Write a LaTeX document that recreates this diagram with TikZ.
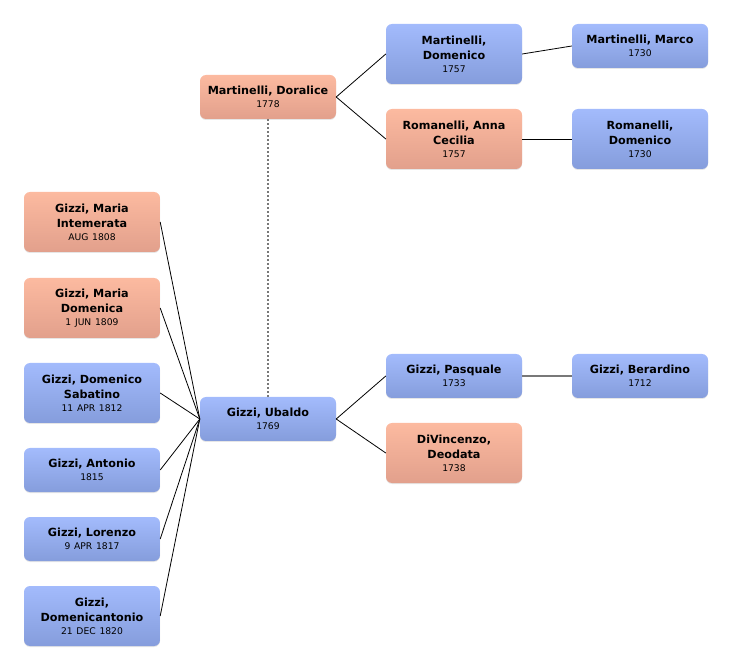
\documentclass[tikz,border=0pt]{standalone}
\usepackage{fontspec}
\setmainfont{DejaVu Sans}
\usetikzlibrary{shadows}

\definecolor{maletop}{RGB}{163,187,252}
\definecolor{malebot}{RGB}{133,157,220}
\definecolor{femtop}{RGB}{252,186,160}
\definecolor{fembot}{RGB}{226,160,140}
\definecolor{spouse}{RGB}{120,120,120}

\newcommand{\born}[1]{\\[-2pt]{\mdseries\fontsize{9.2}{11}\selectfont #1}}

\tikzset{
  person/.style={rounded corners=6pt, minimum width=136pt, minimum height=44pt,
    text width=132pt, align=center, inner sep=2pt,
    font=\fontsize{11.2}{15}\selectfont\bfseries,
    drop shadow={opacity=0.2, shadow xshift=0pt, shadow yshift=-1pt}},
  male/.style={person, top color=maletop, bottom color=malebot},
  female/.style={person, top color=femtop, bottom color=fembot},
  tall/.style={minimum height=60pt},
  link/.style={line width=0.8pt}
}

\begin{document}
\begin{tikzpicture}[x=1pt, y=-1pt]

    \useasboundingbox (0,0) rectangle (732,671);

    % Ubaldo's parents and grandparents
    \node[female] (doralice) at (268,97) {Martinelli, Doralice\born{1778}};
    \node[male, tall] (mdomenico) at (454,54) {Martinelli,\\Domenico\born{1757}};
    \node[male] (marco) at (640,46) {Martinelli, Marco\born{1730}};
    \node[female, tall] (anna) at (454,139) {Romanelli, Anna\\Cecilia\born{1757}};
    \node[male, tall] (rdomenico) at (640,139) {Romanelli,\\Domenico\born{1730}};

    % Ubaldo and his parents
    \node[male] (ubaldo) at (268,419) {Gizzi, Ubaldo\born{1769}};
    \node[male] (pasquale) at (454,376) {Gizzi, Pasquale\born{1733}};
    \node[male] (berardino) at (640,376) {Gizzi, Berardino\born{1712}};
    \node[female, tall] (deodata) at (454,453) {DiVincenzo,\\Deodata\born{1738}};

    % Children
    \node[female, tall] (intemerata) at (92,222) {Gizzi, Maria\\Intemerata\born{AUG 1808}};
    \node[female, tall] (mdomenica) at (92,308) {Gizzi, Maria\\Domenica\born{1 JUN 1809}};
    \node[male, tall] (sabatino) at (92,393) {Gizzi, Domenico\\Sabatino\born{11 APR 1812}};
    \node[male] (antonio) at (92,470) {Gizzi, Antonio\born{1815}};
    \node[male] (lorenzo) at (92,539) {Gizzi, Lorenzo\born{9 APR 1817}};
    \node[male, tall] (domenicantonio) at (92,616) {Gizzi,\\Domenicantonio\born{21 DEC 1820}};

    % Connect generations
    \draw[link] (doralice.east) -- (mdomenico.west);
    \draw[link] (doralice.east) -- (anna.west);
    \draw[link] (mdomenico.east) -- (marco.west);
    \draw[link] (anna.east) -- (rdomenico.west);
    \draw[link] (ubaldo.east) -- (pasquale.west);
    \draw[link] (ubaldo.east) -- (deodata.west);
    \draw[spouse, line width=1.6pt] (pasquale.east) -- (berardino.west);
    \foreach \kid in {intemerata, mdomenica, sabatino, antonio, lorenzo, domenicantonio}
        \draw[link] (\kid.east) -- (ubaldo.west);

    % Marriage
    \draw[spouse, line width=1.3pt, dash pattern=on 2pt off 2pt] (doralice.south) -- (ubaldo.north);

\end{tikzpicture}
\end{document}
